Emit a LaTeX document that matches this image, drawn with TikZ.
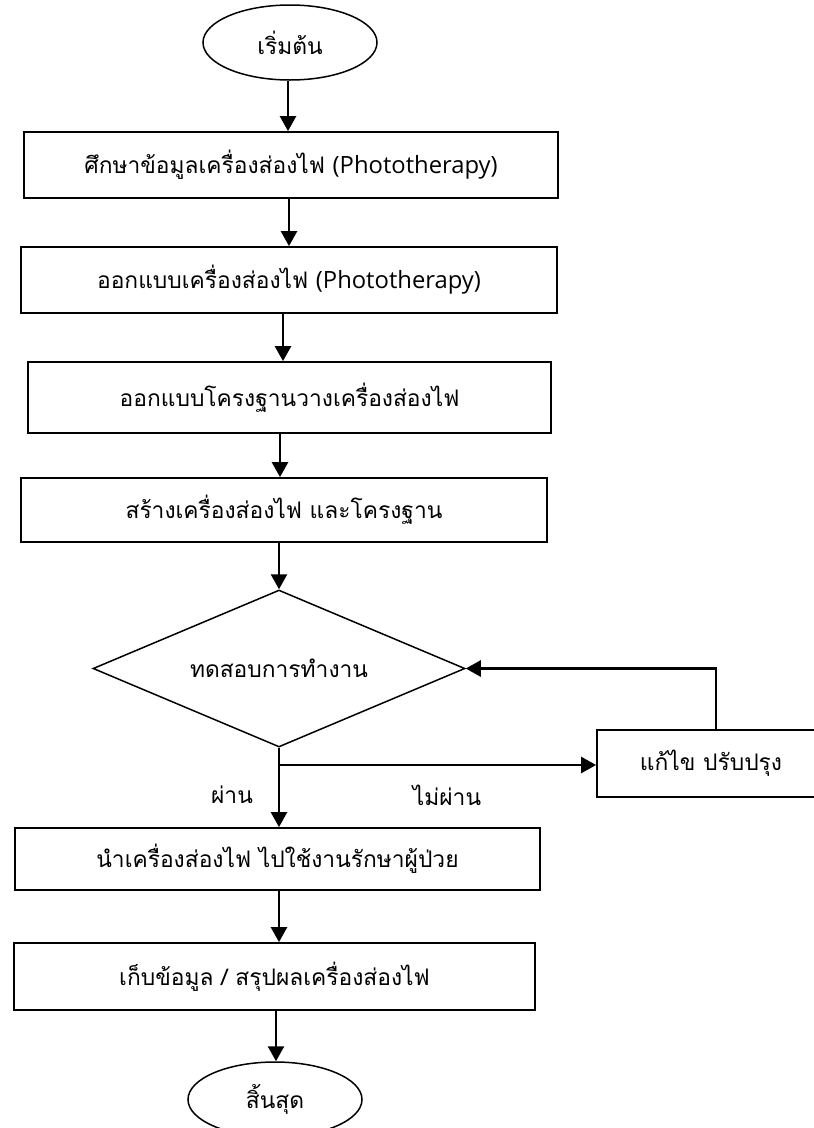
\documentclass[tikz,border=0pt]{standalone}
\usepackage{fontspec}
\setmainfont{Loma}[Script=Thai]
\newfontfamily\mylatfont{Open Sans}
\usetikzlibrary{shapes.geometric,arrows.meta}
\newlength\mymeasure
\newlength\mylatmeasure
\settowidth\mymeasure{\fontsize{20}{24}\selectfont ทดสอบการทำงาน}
\pgfmathsetmacro\myfs{20*178/\mymeasure}
\settowidth\mylatmeasure{\mylatfont\fontsize{\myfs}{\myfs}\selectfont (Phototherapy)}
\pgfmathsetmacro\mylatfs{\myfs*165/\mylatmeasure}
\newcommand\mylat[1]{{\mylatfont\fontsize{\mylatfs}{\mylatfs}\selectfont #1}}
\tikzset{
  procbox/.style={draw, line width=1.8pt, rectangle, inner sep=0pt, align=center},
  termnode/.style={draw, line width=1.5pt, ellipse, inner sep=0pt, minimum width=174pt, minimum height=75pt},
  decnode/.style={draw, line width=1.5pt, diamond, inner sep=0pt, aspect=2.36, minimum width=372pt, minimum height=157pt},
  arr/.style={line width=2.6pt, -{Triangle[length=15pt,width=16pt]}},
  lbl/.style={inner sep=0pt}
}
\begin{document}
\begin{tikzpicture}[x=1pt,y=-1pt,font=\fontsize{\myfs}{\myfs}\selectfont]
\useasboundingbox (0,0) rectangle (814,1128);
\clip (0,0) rectangle (814,1128);
\node[termnode] (start) at (290,42.5) {เริ่มต้น};
\node[procbox, minimum width=534pt, minimum height=66pt] (b1) at (291,165) {ศึกษาข้อมูลเครื่องส่องไฟ \mylat{(Phototherapy)}};
\node[procbox, minimum width=536pt, minimum height=66pt] (b2) at (289,280) {ออกแบบเครื่องส่องไฟ \mylat{(Phototherapy)}};
\node[procbox, minimum width=523pt, minimum height=71pt] (b3) at (289.5,397.5) {ออกแบบโครงฐานวางเครื่องส่องไฟ};
\node[procbox, minimum width=526pt, minimum height=64pt] (b4) at (284,510) {สร้างเครื่องส่องไฟ และโครงฐาน};
\node[decnode] (d) at (279,668.5) {ทดสอบการทำงาน};
\node[procbox, minimum width=228pt, minimum height=67pt] (fix) at (711,763.5) {แก้ไข ปรับปรุง};
\node[procbox, minimum width=525pt, minimum height=62pt] (b5) at (277.5,859) {นำเครื่องส่องไฟ ไปใช้งานรักษาผู้ป่วย};
\node[procbox, minimum width=521pt, minimum height=67pt] (b6) at (274.5,976.5) {เก็บข้อมูล / สรุปผลเครื่องส่องไฟ};
\node[termnode] (end) at (275,1099.5) {สิ้นสุด};
\node[lbl] (pass) at (232,795) {ผ่าน};
\node[lbl] (fail) at (447,795) {ไม่ผ่าน};
\coordinate (c1) at (288,0);
\coordinate (c2) at (289,0);
\coordinate (c3) at (283,0);
\coordinate (c4) at (280,0);
\coordinate (c5) at (279,0);
\coordinate (c6) at (276,0);
\coordinate (fx) at (716,0);
\coordinate (br) at (279,765);
\draw[arr] (start.south -| c1) -- (b1.north -| c1);
\draw[arr] (b1.south -| c2) -- (b2.north -| c2);
\draw[arr] (b2.south -| c3) -- (b3.north -| c3);
\draw[arr] (b3.south -| c4) -- (b4.north -| c4);
\draw[arr] (b4.south -| c5) -- (d.north);
\draw[arr] (d.south) -- (b5.north -| c5);
\draw[arr] (br) -- (br -| fix.west);
\draw[arr] (fix.north -| fx) -- (d.east -| fx) -- (d.east);
\draw[arr] (b5.south -| c5) -- (b6.north -| c5);
\draw[arr] (b6.south -| c6) -- (end.north -| c6);
\end{tikzpicture}
\end{document}
